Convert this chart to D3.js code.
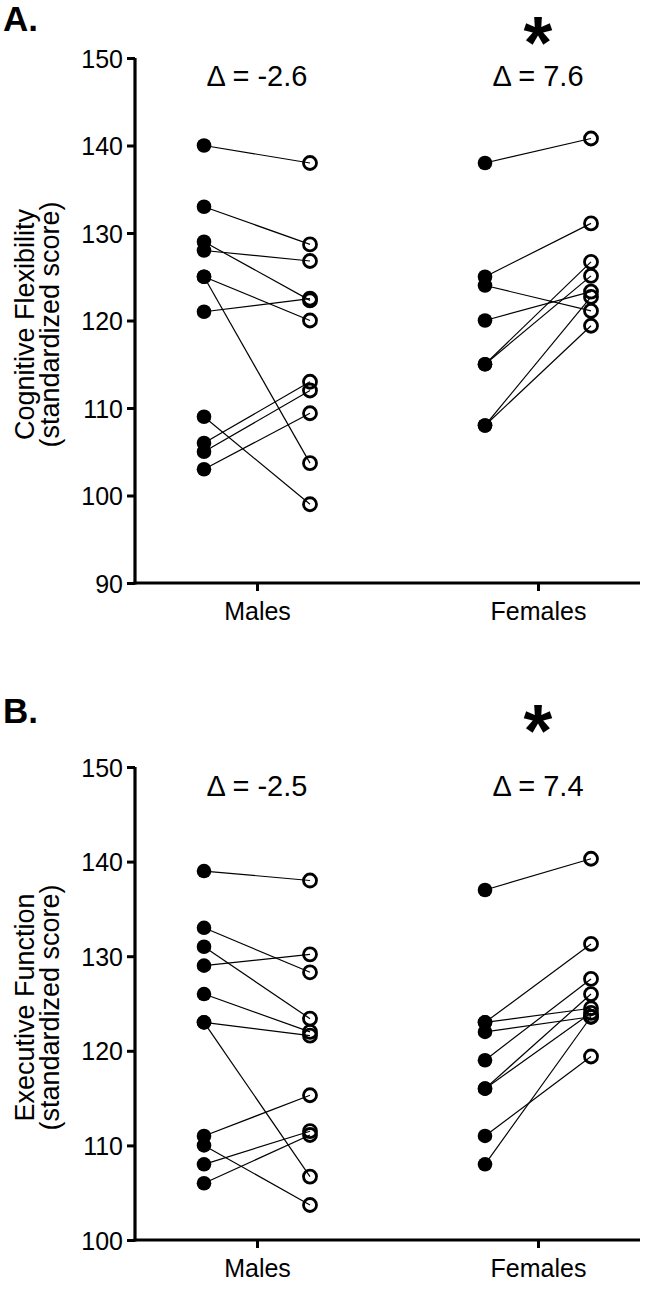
<!DOCTYPE html>
<html>
<head>
<meta charset="utf-8">
<script src="https://cdn.jsdelivr.net/npm/d3@7"></script>
<style>
  html, body { margin: 0; padding: 0; background: #fff; }
  svg { display: block; }
  text { font-family: "Liberation Sans", Arial, Helvetica, sans-serif; fill: #000; }
</style>
</head>
<body>
<svg id="chart" width="666" height="1308"></svg>
<script>
// ---------------- DATA ----------------
const categories = ["Males", "Females"];

// Panel A: Cognitive Flexibility (pre = filled, post = open)
const cfMalesPre    = [140, 133, 129, 128, 125, 125, 121, 109, 106, 105, 103];
const cfMalesPost   = [138, 128.7, 122.3, 126.8, 120, 103.7, 122.5, 99, 113, 112, 109.4];
const cfFemalesPre  = [138, 125, 124, 120, 115, 115, 108, 108];
const cfFemalesPost = [140.8, 131.1, 121.1, 123.3, 126.7, 125.1, 122.7, 119.4];

// Panel B: Executive Function
const efMalesPre    = [139, 133, 131, 129, 126, 123, 123, 111, 110, 108, 106];
const efMalesPost   = [138, 128.3, 123.4, 130.2, 122, 121.6, 106.7, 115.3, 103.7, 111.5, 111.1];
const efFemalesPre  = [137, 123, 123, 122, 119, 116, 116, 111, 108];
const efFemalesPost = [140.3, 131.3, 124.5, 123.6, 127.6, 126, 124, 119.4, 123.6];

const cfDeltaLabels = ["Δ = -2.6", "Δ = 7.6"];
const efDeltaLabels = ["Δ = -2.5", "Δ = 7.4"];
const significant   = [false, true];

const cfTicks = [90, 100, 110, 120, 130, 140, 150];
const efTicks = [100, 110, 120, 130, 140, 150];

const cfTitle = ["Cognitive Flexibility", "(standardized score)"];
const efTitle = ["Executive Function", "(standardized score)"];

// ---------------- DRAW ----------------
const svg = d3.select("#chart");

function panel(cfg) {
  const g = svg.append("g");
  const y = d3.scaleLinear().domain(cfg.domain).range([cfg.bottom, cfg.top]);
  const x = d3.scalePoint().domain(categories).range([257, 538]);
  const off = 53;
  const left = 135, right = 640;

  // y axis
  const yAxis = d3.axisLeft(y).tickValues(cfg.ticks).tickSize(8).tickSizeOuter(0).tickPadding(4);
  const ya = g.append("g").attr("transform", `translate(${left},0)`).call(yAxis);
  ya.select(".domain").attr("stroke-width", 3.2).attr("d", `M0,${cfg.top}V${cfg.bottom + 1.6}`);
  ya.selectAll(".tick line").attr("stroke-width", 3);
  ya.selectAll(".tick text").style("font-size", "25px").attr("dy", "0.36em");

  // x axis
  const xAxis = d3.axisBottom(x).tickSize(8).tickSizeOuter(0).tickPadding(9);
  const xa = g.append("g").attr("transform", `translate(0,${cfg.bottom})`).call(xAxis);
  xa.select(".domain").attr("stroke-width", 3.2).attr("d", `M${left - 1.6},0H${right}`);
  xa.selectAll(".tick line").attr("stroke-width", 3);
  xa.selectAll(".tick text").style("font-size", "25px").attr("dy", "0.8em");

  // y title
  const tc = (cfg.top + cfg.bottom) / 2 + 4;
  cfg.title.forEach((t, i) => {
    g.append("text")
      .attr("transform", `translate(${34 + i * 25},${tc}) rotate(-90)`)
      .attr("text-anchor", "middle")
      .style("font-size", "27px")
      .text(t);
  });

  // panel letter
  g.append("text").attr("x", 3).attr("y", cfg.letterY)
    .style("font-size", "35px").style("font-weight", "bold").text(cfg.letter);

  // groups
  cfg.groups.forEach((grp, gi) => {
    const cx = x(categories[gi]);
    const pairs = grp.pre.map((v, i) => ({ pre: v, post: grp.post[i] }));
    g.append("g").selectAll("line").data(pairs).join("line")
      .attr("x1", cx - off).attr("x2", cx + off)
      .attr("y1", d => y(d.pre)).attr("y2", d => y(d.post))
      .attr("stroke", "#000").attr("stroke-width", 1.2);
    g.append("g").selectAll("circle").data(pairs).join("circle")
      .attr("cx", cx - off).attr("cy", d => y(d.pre)).attr("r", 7.3)
      .attr("fill", "#000");
    g.append("g").selectAll("circle").data(pairs).join("circle")
      .attr("cx", cx + off).attr("cy", d => y(d.post)).attr("r", 6.5)
      .attr("fill", "none").attr("stroke", "#000").attr("stroke-width", 2.8);

    g.append("text").attr("x", cx).attr("y", cfg.deltaY)
      .attr("text-anchor", "middle").style("font-size", "29px")
      .text(cfg.deltas[gi]);
    if (significant[gi]) {
      g.append("text").attr("x", cx).attr("y", cfg.starY)
        .attr("text-anchor", "middle").style("font-size", "74px").style("font-weight", "bold")
        .text("*");
    }
  });
}

panel({
  domain: [90, 150], top: 58, bottom: 583, ticks: cfTicks, title: cfTitle,
  letter: "A.", letterY: 31, deltaY: 86, starY: 68, deltas: cfDeltaLabels,
  groups: [{ pre: cfMalesPre, post: cfMalesPost }, { pre: cfFemalesPre, post: cfFemalesPost }]
});
panel({
  domain: [100, 150], top: 767, bottom: 1240, ticks: efTicks, title: efTitle,
  letter: "B.", letterY: 723, deltaY: 796, starY: 756, deltas: efDeltaLabels,
  groups: [{ pre: efMalesPre, post: efMalesPost }, { pre: efFemalesPre, post: efFemalesPost }]
});
</script>
</body>
</html>
